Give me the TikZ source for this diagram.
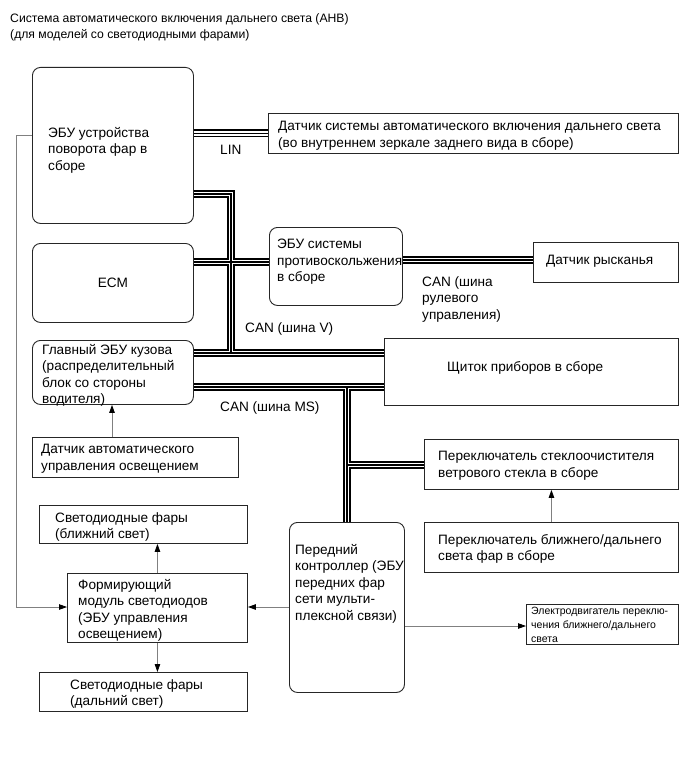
\documentclass[tikz,border=0pt]{standalone}
\usepackage{fontspec}
\setmainfont{Liberation Sans}
\usetikzlibrary{arrows.meta}
\tikzset{
  frame/.style={draw=black!85, line width=0.9pt, inner sep=0pt, anchor=north west},
  rframe/.style={frame, rounded corners=8pt},
  txt/.style={anchor=north west, inner sep=0pt, align=left,
    font=\fontsize{13.6}{16.5}\selectfont, execute at begin node=\strut},
  titletxt/.style={txt, font=\fontsize{12.2}{16}\selectfont},
  smalltxt/.style={txt, font=\fontsize{10.5}{14}\selectfont},
  bus/.style={line width=8pt, black,
    postaction={draw=white, line width=4.6pt},
    postaction={draw=black, line width=1.4pt}},
  conn/.style={draw=black!50, line width=0.8pt,
    -{Triangle[length=8pt, width=5.5pt, color=black]}},
}
\begin{document}
\begin{tikzpicture}[x=1pt, y=-1pt]
\useasboundingbox (0,0) rectangle (689,757);
\fill[white] (0,0) rectangle (689,757);

% title
\node[titletxt] (title) at (10,13) {Система автоматического включения дальнего света (AHB)\\(для моделей со светодиодными фарами)};

% boxes
\node[rframe, minimum width=161pt, minimum height=156pt] (A) at (32,67) {};
\node[frame, minimum width=410pt, minimum height=40pt] (B) at (268,113) {};
\node[rframe, minimum width=161pt, minimum height=79pt] (C) at (32,243) {};
\node[rframe, minimum width=133pt, minimum height=78pt] (D) at (269,227) {};
\node[frame, minimum width=145pt, minimum height=40pt] (E) at (533,242) {};
\node[rframe, minimum width=161pt, minimum height=64pt] (F) at (32,340) {};
\node[frame, minimum width=294pt, minimum height=67pt] (G) at (384,338) {};
\node[frame, minimum width=206pt, minimum height=40pt] (H) at (32,437) {};
\node[frame, minimum width=254pt, minimum height=50pt] (I) at (424,439) {};
\node[frame, minimum width=254pt, minimum height=50pt] (J) at (424,522) {};
\node[rframe, minimum width=115pt, minimum height=170pt] (K) at (289,522) {};
\node[frame, minimum width=152pt, minimum height=40pt] (L) at (526,604) {};
\node[frame, minimum width=208pt, minimum height=38pt] (M) at (39,505) {};
\node[frame, minimum width=180pt, minimum height=69pt] (N) at (67,573) {};
\node[frame, minimum width=208pt, minimum height=39pt] (O) at (39,672) {};

% texts
\node[txt] (tA) at (48,127) {ЭБУ устройства\\поворота фар в\\сборе};
\node[txt] (tB) at (278,121) {Датчик системы автоматического включения дальнего света\\(во внутреннем зеркале заднего вида в сборе)};
\node[font=\fontsize{13.6}{16.5}\selectfont, inner sep=0pt] (tC) at (C.center) {ECM};
\node[txt] (tD) at (277,239) {ЭБУ системы\\противоскольжения\\в сборе};
\node[txt] (tE) at (546,253) {Датчик рысканья};
\node[txt] (tF) at (42,344) {Главный ЭБУ кузова\\(распределительный\\блок со стороны\\водителя)};
\node[txt] (tG) at (447,360) {Щиток приборов в сборе};
\node[txt] (tH) at (41,444) {Датчик автоматического\\управления освещением};
\node[txt] (tI) at (438,451) {Переключатель стеклоочистителя\\ветрового стекла в сборе};
\node[txt] (tJ) at (438,534) {Переключатель ближнего/дальнего\\света фар в сборе};
\node[txt] (tK) at (295,544) {Передний\\контроллер (ЭБУ\\передних фар\\сети мульти-\\плексной связи)};
\node[smalltxt] (tL) at (531,607) {Электродвигатель переклю-\\чения ближнего/дальнего\\света};
\node[txt] (tM) at (55,512) {Светодиодные фары\\(ближний свет)};
\node[txt] (tN) at (78,579) {Формирующий\\модуль светодиодов\\(ЭБУ управления\\освещением)};
\node[txt] (tO) at (70,679) {Светодиодные фары\\(дальний свет)};

% bus labels
\node[txt] (lLIN) at (220,143) {LIN};
\node[txt] (lV) at (245,321) {CAN (шина V)};
\node[txt] (lMS) at (220,400) {CAN (шина MS)};
\node[txt] (lST) at (422,276) {CAN (шина\\рулевого\\управления)};

% bus coordinates
\coordinate (vA) at (231,194);
\coordinate (vV) at (231,353);
\coordinate (yE) at (0,262);
\coordinate (st) at (0,260);
\coordinate (ms) at (347,387);
\coordinate (br) at (347,465);

% LIN bus
\draw[bus] (A.east |- B.west) -- (B.west);
% CAN V network
\draw[bus] (A.east |- vA) -- (vA) -- (vV)
  (C.east |- yE) -- (D.west |- yE)
  (F.east |- vV) -- (G.west |- vV);
% steering CAN
\draw[bus] (D.east |- st) -- (E.west |- st);
% CAN MS network
\draw[bus] (F.east |- ms) -- (G.west |- ms)
  (ms) -- (ms |- K.north)
  (br) -- (I.west |- br);

% plain connectors
\coordinate (hx) at (112,0);
\coordinate (g1) at (16,135);
\coordinate (g2) at (16,607);
\coordinate (el) at (0,626);
\draw[conn] (H.north -| hx) -- (F.south -| hx);
\draw[conn] (J.north) -- (J.north |- I.south);
\draw[conn] (A.west |- g1) -- (g1) -- (g2) -- (N.west |- g2);
\draw[conn] (K.west |- g2) -- (N.east |- g2);
\draw[conn] (N.north) -- (N.north |- M.south);
\draw[conn] (N.south) -- (N.south |- O.north);
\draw[conn] (K.east |- el) -- (L.west |- el);
\end{tikzpicture}
\end{document}
